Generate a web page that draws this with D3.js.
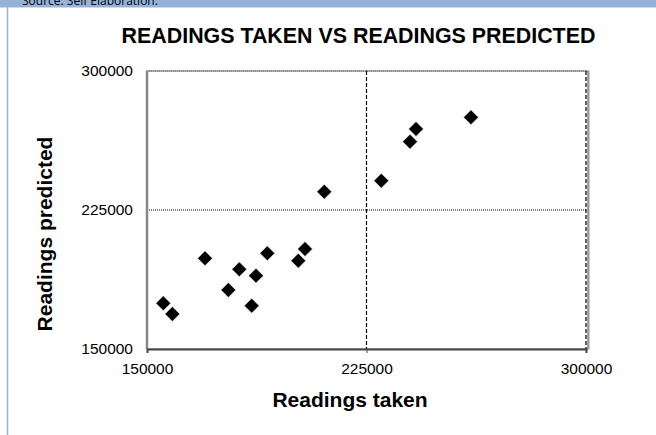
<!DOCTYPE html>
<html>
<head>
  <meta charset="utf-8">
  <title>readings</title>
  <script src="https://cdn.jsdelivr.net/npm/d3@7"></script>
  <style>
    body { margin: 0; overflow: hidden; background: #fff; }
    svg { display: block; font-family: "Liberation Sans", Arial, sans-serif; }
    .tick text { font-size: 15.5px; fill: #000; }
    .lbl { font-weight: bold; font-size: 21px; text-anchor: middle; }
  </style>
</head>
<body>
<svg id="chart" width="656" height="435"></svg>
<script>
// values
var taken     = [155570, 158645, 169818, 177780, 181538, 185775, 187244, 191106,
                 201698, 203987, 210582, 230058, 239865, 241915, 260708];
var predicted = [174660, 168886, 198942, 181836, 193006, 173365, 189553, 201640,
                 197647, 203960, 234880, 240815, 261860, 268712, 275025];
var tickVals  = [150000, 225000, 300000];

var svg = d3.select("#chart");

// page frame: blue strip with cut-off source note, left rule
svg.append("rect").attr("x", 0).attr("y", 0).attr("width", 656).attr("height", 7.5)
    .attr("fill", "#95b3d7");
svg.append("text").attr("x", 22).attr("y", 5)
    .style("font-family", "'Open Sans', sans-serif").style("font-size", "12px")
    .text("Source: Self Elaboration.");
svg.append("line").attr("x1", 7.5).attr("x2", 7.5).attr("y1", 7).attr("y2", 435)
    .attr("stroke", "#95b3d7").attr("stroke-width", 1.5);

var x = d3.scaleLinear().domain([150000, 300000]).range([147, 586]);
var y = d3.scaleLinear().domain([150000, 300000]).range([349, 71]);

// plot area border (gray) with a slight shadow on the right
svg.append("rect").attr("x", x(150000)).attr("y", y(300000))
    .attr("width", x(300000) - x(150000) + 2).attr("height", y(150000) - y(300000))
    .attr("fill", "#fff").attr("stroke", "#999").attr("stroke-width", 1.5);
svg.append("line").attr("x1", x(300000) + 2.5).attr("x2", x(300000) + 2.5)
    .attr("y1", y(300000)).attr("y2", y(150000))
    .attr("stroke", "#999").attr("stroke-width", 2);

// grid lines
svg.append("line").attr("x1", x(150000)).attr("x2", x(300000))
    .attr("y1", y(225000)).attr("y2", y(225000))
    .attr("stroke", "#000").attr("stroke-width", 1).attr("stroke-dasharray", "1,1");
svg.append("line").attr("x1", x(150000)).attr("x2", x(300000))
    .attr("y1", y(300000)).attr("y2", y(300000))
    .attr("stroke", "#666").attr("stroke-width", 1).attr("stroke-dasharray", "1,1");
[225000, 300000].forEach(function(v) {
  svg.append("line").attr("x1", x(v)).attr("x2", x(v))
      .attr("y1", y(300000)).attr("y2", y(150000))
      .attr("stroke", "#000").attr("stroke-width", 1.2).attr("stroke-dasharray", "4,2");
});

// left axis line (gray, no ticks)
svg.append("line").attr("x1", x(150000)).attr("x2", x(150000))
    .attr("y1", y(300000)).attr("y2", y(150000))
    .attr("stroke", "#888").attr("stroke-width", 2.5);

// axes
var xAxis = d3.axisBottom(x).tickValues(tickVals).tickSize(4).tickPadding(10)
    .tickFormat(d3.format("d"));
var gx = svg.append("g").attr("transform", "translate(0," + y(150000) + ")").call(xAxis);
gx.select(".domain").attr("stroke", "#444").attr("stroke-width", 2);
gx.selectAll(".tick line").attr("stroke", "#444");

var yAxis = d3.axisLeft(y).tickValues(tickVals).tickSize(0).tickPadding(14)
    .tickFormat(d3.format("d"));
var gy = svg.append("g").attr("transform", "translate(" + x(150000) + ",0)").call(yAxis);
gy.select(".domain").remove();
gx.attr("font-family", null).attr("font-size", null);
gy.attr("font-family", null).attr("font-size", null);

// points as diamonds
var diamond = d3.symbol().type(d3.symbolSquare).size(112);
svg.append("g").selectAll("path")
    .data(taken)
  .enter().append("path")
    .attr("d", diamond)
    .attr("transform", function(d, i) {
      return "translate(" + x(d) + "," + y(predicted[i]) + ") rotate(45)";
    })
    .attr("fill", "#000")
    .attr("stroke", "#fff").attr("stroke-width", 0.6);

// titles
svg.append("text").attr("class", "lbl").attr("x", 358.5).attr("y", 42.5)
    .style("font-size", "21.4px")
    .text("READINGS TAKEN VS READINGS PREDICTED");
svg.append("text").attr("class", "lbl").attr("x", 350).attr("y", 407)
    .text("Readings taken");
svg.append("text").attr("class", "lbl").attr("transform", "translate(52,234) rotate(-90)")
    .text("Readings predicted");
</script>
</body>
</html>
